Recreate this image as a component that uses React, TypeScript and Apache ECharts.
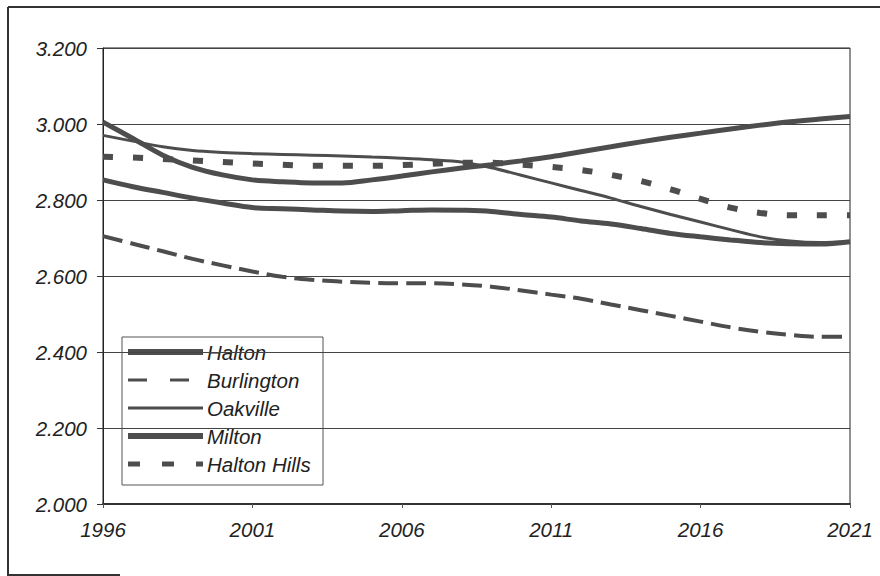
import React, { useEffect, useRef } from "react";
import * as echarts from "echarts";

const years = [
  "1996", "1997", "1998", "1999", "2000", "2001", "2002", "2003", "2004",
  "2005", "2006", "2007", "2008", "2009", "2010", "2011", "2012", "2013",
  "2014", "2015", "2016", "2017", "2018", "2019", "2020", "2021",
];

const halton = [
  3.005, 2.962, 2.918, 2.886, 2.866, 2.853, 2.848, 2.845, 2.845, 2.853,
  2.863, 2.874, 2.884, 2.893, 2.903, 2.914, 2.927, 2.94, 2.953, 2.965,
  2.976, 2.987, 2.997, 3.006, 3.013, 3.02,
];

const burlington = [
  2.705, 2.685, 2.665, 2.645, 2.628, 2.612, 2.598, 2.59, 2.585, 2.582,
  2.581, 2.581, 2.578, 2.572, 2.562, 2.551, 2.54, 2.525, 2.51, 2.495,
  2.48, 2.465, 2.453, 2.445, 2.44, 2.44,
];

const oakville = [
  2.97, 2.955, 2.94, 2.93, 2.925, 2.922, 2.92, 2.918, 2.916, 2.913, 2.91,
  2.906, 2.9, 2.885, 2.865, 2.845, 2.825, 2.805, 2.783, 2.762, 2.742,
  2.722, 2.703, 2.692, 2.688, 2.69,
];

const milton = [
  2.853, 2.835, 2.82, 2.805, 2.792, 2.78, 2.777, 2.774, 2.771, 2.77, 2.772,
  2.774, 2.773, 2.77, 2.762, 2.755, 2.745, 2.737, 2.725, 2.712, 2.703,
  2.695, 2.688, 2.685, 2.684, 2.69,
];

const haltonHills = [
  2.914, 2.912, 2.908, 2.904, 2.9, 2.896, 2.893, 2.89, 2.89, 2.89, 2.892,
  2.895, 2.898, 2.898, 2.893, 2.887, 2.879, 2.866, 2.85, 2.828, 2.803,
  2.78, 2.766, 2.76, 2.76, 2.76,
];

const seriesNames = ["Halton", "Burlington", "Oakville", "Milton", "Halton Hills"];

const FONT = "'Liberation Sans', Arial, sans-serif";
const LINE = "#4d4d4d";
const FS = 20.5;

const styles: Record<string, { width: number; dash?: number[] }> = {
  Halton: { width: 5 },
  Burlington: { width: 4, dash: [20, 8] },
  Oakville: { width: 3 },
  Milton: { width: 5 },
  "Halton Hills": { width: 6, dash: [10, 20] },
};

const legendStyles: Record<string, { width: number; dash?: number[] }> = {
  Halton: { width: 6 },
  Burlington: { width: 3, dash: [19, 23] },
  Oakville: { width: 3 },
  Milton: { width: 6 },
  "Halton Hills": { width: 5, dash: [12, 22] },
};

export default function App() {
  const ref = useRef<HTMLDivElement>(null);

  useEffect(() => {
    if (!ref.current) return;
    const chart = echarts.init(ref.current, null, { renderer: "svg" });

    const data: Record<string, number[]> = {
      Halton: halton,
      Burlington: burlington,
      Oakville: oakville,
      Milton: milton,
      "Halton Hills": haltonHills,
    };

    const series = seriesNames.map((name) => ({
      name,
      type: "line",
      data: data[name],
      smooth: 0.35,
      showSymbol: false,
      symbol: "none",
      lineStyle: {
        color: LINE,
        cap: "butt",
        width: styles[name].width,
        type: styles[name].dash || "solid",
      },
      itemStyle: { color: LINE },
      emphasis: { disabled: true },
    }));

    const legendTop = 337;
    const rowY = [352, 380, 408, 436, 464];
    const legendChildren: any[] = [
      {
        type: "rect",
        shape: { x: 122, y: legendTop, width: 201, height: 148 },
        style: { fill: "#ffffff", stroke: "#555", lineWidth: 1 },
      },
    ];
    seriesNames.forEach((name, i) => {
      const ls = legendStyles[name];
      legendChildren.push({
        type: "line",
        shape: { x1: 128, y1: rowY[i], x2: 203, y2: rowY[i] },
        style: {
          stroke: LINE,
          lineWidth: ls.width,
          lineDash: ls.dash || null,
          lineCap: "butt",
        },
      });
      legendChildren.push({
        type: "text",
        x: 207,
        y: rowY[i],
        style: {
          text: name,
          fill: "#222",
          font: `italic ${FS}px ${FONT}`,
          textVerticalAlign: "middle",
          verticalAlign: "middle",
          textAlign: "left",
        },
      });
    });

    chart.setOption({
      animation: false,
      backgroundColor: "#ffffff",
      grid: {
        left: 103,
        right: 30,
        top: 48,
        bottom: 72,
        show: true,
        borderColor: "#222",
        borderWidth: 1,
        backgroundColor: "transparent",
      },
      xAxis: {
        type: "category",
        data: years,
        boundaryGap: false,
        axisLine: { lineStyle: { color: "#333", width: 2 } },
        axisTick: { show: true, interval: 4, length: 4, lineStyle: { color: "#555" } },
        axisLabel: {
          interval: 4,
          margin: 15,
          color: "#222",
          fontFamily: FONT,
          fontStyle: "italic",
          fontSize: FS,
        },
        splitLine: { show: false },
      },
      yAxis: {
        type: "value",
        min: 2,
        max: 3.2,
        interval: 0.2,
        axisLine: { show: true, lineStyle: { color: "#222", width: 1 } },
        axisTick: { show: true, length: 6, lineStyle: { color: "#333" } },
        axisLabel: {
          margin: 16,
          color: "#222",
          fontFamily: FONT,
          fontStyle: "italic",
          fontSize: FS,
          formatter: (v: number) => v.toFixed(3),
        },
        splitLine: { show: true, lineStyle: { color: "#444", width: 1 } },
      },
      graphic: [
        { type: "line", shape: { x1: 8, y1: 7, x2: 880, y2: 7 }, style: { stroke: "#333", lineWidth: 2 } },
        { type: "line", shape: { x1: 8, y1: 7, x2: 8, y2: 576 }, style: { stroke: "#333", lineWidth: 2 } },
        { type: "line", shape: { x1: 8, y1: 575, x2: 120, y2: 575 }, style: { stroke: "#333", lineWidth: 2 } },
        { type: "group", z: 100, children: legendChildren },
      ],
      series,
    });

    return () => chart.dispose();
  }, []);

  return (
    <div
      ref={ref}
      style={{ position: "fixed", left: 0, top: 0, width: 880, height: 576 }}
    />
  );
}
